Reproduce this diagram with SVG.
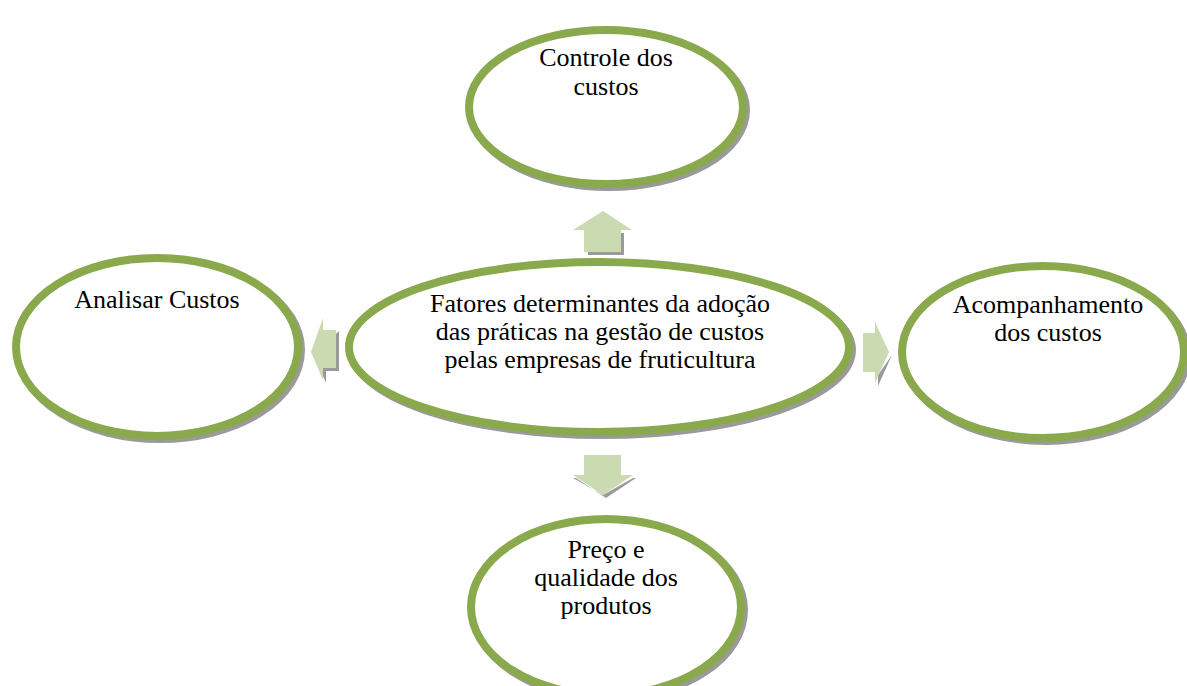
<svg xmlns="http://www.w3.org/2000/svg" width="1187" height="686" viewBox="0 0 1187 686">
<style>
.ring{fill:#fff;stroke:#8AA84C;stroke-width:8}
.shadow{fill:none;stroke:#9a9a9a;stroke-width:8}
.arrow{fill:#CADBB2}
.ashadow{fill:#9a9a9a}
text{font-family:"Liberation Serif","Times New Roman",serif;font-size:26px;fill:#000;text-anchor:middle}
</style>
<rect width="1187" height="686" fill="#fff"/>
<g id="connectors">
  <g id="arrow-up">
    <polygon class="ashadow" points="576,233 588,233 588,255 624,255 624,233 635,233"/>
    <polygon class="arrow" points="603,211 632,230 621,230 621,252 584,252 584,230 573,230"/>
  </g>
  <g id="arrow-left">
    <polygon class="ashadow" points="314,355 326,383 326,371 339,371 339,331"/>
    <polygon class="arrow" points="311,352 323,318 323,330 336,330 336,368 323,368 323,380"/>
  </g>
  <g id="arrow-right">
    <polygon class="ashadow" points="866,375 878,375 878,386 892,355 878,375"/>
    <polygon class="arrow" points="889,352 875,322 875,333 863,333 863,372 875,372 875,383"/>
  </g>
  <g id="arrow-down">
    <polygon class="ashadow" points="576,478 606,498 636,478 633,478 603,495 573,478"/>
    <polygon class="arrow" points="603,495 633,475 621,475 621,455 584,455 584,475 573,475"/>
  </g>
</g>
<g id="node-top">
  <ellipse class="shadow" cx="609" cy="110" rx="137" ry="77"/>
  <ellipse class="ring" cx="606" cy="107" rx="137" ry="77"/>
  <text x="606" y="66">Controle dos</text>
  <text x="606" y="95">custos</text>
</g>
<g id="node-left">
  <ellipse class="shadow" cx="160" cy="350" rx="141" ry="89"/>
  <ellipse class="ring" cx="157" cy="347" rx="141" ry="89"/>
  <text x="157" y="308">Analisar Custos</text>
</g>
<g id="node-center">
  <ellipse class="shadow" cx="602" cy="350" rx="250" ry="85"/>
  <ellipse class="ring" cx="599" cy="347" rx="250" ry="85"/>
  <text x="600" y="312">Fatores determinantes da adoção</text>
  <text x="600" y="340">das práticas na gestão de custos</text>
  <text x="600" y="368">pelas empresas de fruticultura</text>
</g>
<g id="node-right">
  <ellipse class="shadow" cx="1046" cy="355" rx="141" ry="86"/>
  <ellipse class="ring" cx="1043" cy="352" rx="141" ry="86"/>
  <text x="1048" y="313">Acompanhamento</text>
  <text x="1048" y="341">dos custos</text>
</g>
<g id="node-bottom">
  <ellipse class="shadow" cx="609" cy="610" rx="135" ry="88"/>
  <ellipse class="ring" cx="606" cy="607" rx="135" ry="88"/>
  <text x="606" y="558">Preço e</text>
  <text x="606" y="586">qualidade dos</text>
  <text x="606" y="614">produtos</text>
</g>
</svg>
